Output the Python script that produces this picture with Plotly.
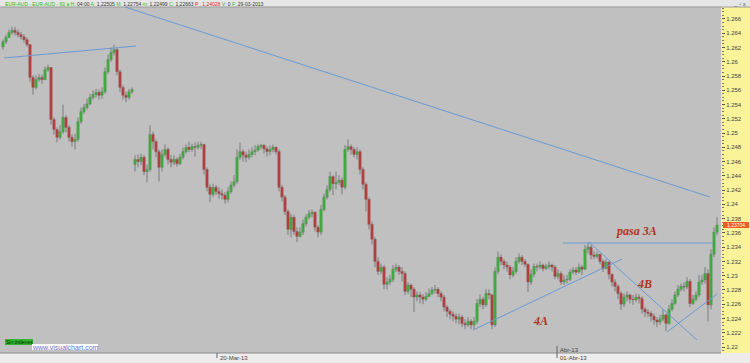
import plotly.graph_objects as go

# ---- data (prices in pips above 1.2000) ----
first_open = 621
gap_index = 44
gap_open = 456

close_pips = [
    628,634,641,644,641,638,635,631,624,578,
    564,575,578,575,589,592,519,505,494,502,
    522,508,494,488,491,516,530,536,541,550,
    554,557,553,558,586,603,613,617,586,564,
    553,550,558,561,463,460,466,446,449,498,
    488,474,452,470,477,463,459,463,457,466,
    474,480,477,481,480,483,484,449,424,414,
    424,418,415,413,407,418,427,432,466,474,
    469,466,470,474,476,481,483,478,474,477,
    480,474,424,410,390,365,382,362,355,361,
    373,382,387,389,368,361,393,410,421,439,
    429,431,434,424,477,481,477,470,474,449,
    428,407,372,351,320,306,312,288,291,295,
    309,312,306,303,278,287,281,270,273,270,
    267,271,275,280,281,275,270,256,250,246,
    243,239,242,233,231,236,231,236,261,267,
    259,275,273,231,306,326,320,315,312,301,
    306,320,326,320,316,291,302,313,312,315,
    310,313,315,312,299,303,291,294,295,305,
    308,305,312,309,337,340,329,327,330,320,
    310,319,302,291,285,275,260,270,273,267,
    266,270,268,253,249,247,243,238,235,239,
    245,233,253,261,273,281,285,284,292,261,
    267,273,291,294,303,259,330,361,371,
]
high_pips = [
    631,638,645,649,649,645,642,639,634,625,
    581,581,583,582,593,596,592,522,508,511,
    540,525,511,498,499,522,536,541,548,555,
    560,562,561,564,592,610,620,624,620,589,
    567,558,562,564,469,470,471,469,456,511,
    502,491,477,477,484,480,469,469,466,471,
    480,484,488,485,487,488,488,485,452,428,
    429,427,424,421,417,424,432,441,477,487,
    477,474,477,480,483,484,485,484,481,483,
    484,481,477,427,413,393,387,385,368,368,
    379,386,392,393,390,371,399,415,427,446,
    441,446,441,438,483,491,484,480,480,477,
    452,431,410,376,354,326,317,315,298,301,
    315,317,315,312,306,291,289,284,278,277,
    274,277,282,284,287,284,278,273,259,253,
    250,247,247,245,239,242,239,242,267,274,
    270,281,281,275,312,334,330,323,320,315,
    312,326,331,329,323,317,309,317,317,320,
    317,317,320,317,315,309,306,301,301,309,
    312,312,317,315,343,347,343,334,334,331,
    323,323,320,303,295,288,278,275,278,275,
    273,275,274,271,256,253,250,247,242,245,
    253,247,259,267,278,287,289,291,298,295,
    273,278,301,301,312,309,337,368,382,
]
low_pips = [
    617,625,634,638,637,634,631,627,621,572,
    554,561,572,569,575,586,512,498,487,491,
    499,501,488,481,477,488,513,527,533,539,
    547,550,547,548,555,583,600,609,581,558,
    547,543,547,555,446,452,455,441,431,446,
    477,466,432,446,466,456,452,455,453,455,
    463,471,473,474,467,477,478,442,418,403,
    410,413,408,407,401,403,415,424,429,463,
    460,459,463,466,469,474,477,471,467,469,
    473,470,418,404,385,357,354,357,347,354,
    357,369,379,382,362,354,357,390,407,418,
    413,421,427,414,421,474,470,466,463,442,
    421,390,365,344,312,301,302,281,281,287,
    291,305,301,292,273,274,270,249,264,261,
    260,264,270,273,275,270,264,250,242,239,
    236,233,232,228,225,228,225,225,232,256,
    253,256,267,225,228,302,315,309,306,295,
    298,303,317,315,312,277,287,298,306,309,
    306,308,309,306,295,295,287,287,289,292,
    302,301,303,301,308,331,323,323,324,316,
    305,309,295,285,278,267,252,256,264,261,
    259,263,261,247,242,242,236,231,228,231,
    236,222,231,250,259,270,278,278,281,256,
    259,264,270,287,289,236,253,326,357,
]

# drawn trend lines: (bar index, price) pairs
trend_lines = [
    ((0.33, 1.26053), (44.33, 1.26221)),
    ((40.67, 1.26768), (235.67, 1.24103)),
    ((156.67, 1.22238), (206.33, 1.23234)),
    ((186.67, 1.23458), (236.67, 1.23458)),
    ((195.33, 1.23472), (231.33, 1.22098)),
    ((221.33, 1.22210), (238.0, 1.22743)),
]
labels = [("pasa 3A", 211.3, 1.23626), ("4B", 213.7, 1.22883), ("4A", 179.3, 1.22364)]
date_ticks = [(71.33, "20-Mar-13"), (184.67, "01-Abr-13")]
y_ticks = [round(1.22 + 0.002 * k, 3) for k in range(24)]
last_price_text = "1,23704"

# ---- build OHLC ----
n = len(close_pips)
closes = [1.2 + v / 10000 for v in close_pips]
opens = [1.2 + first_open / 10000] + closes[:-1]
opens[gap_index] = 1.2 + gap_open / 10000
highs = [max(1.2 + h / 10000, o, c) for h, o, c in zip(high_pips, opens, closes)]
lows = [min(1.2 + l / 10000, o, c) for l, o, c in zip(low_pips, opens, closes)]
xs = list(range(n))

W, H = 750, 363
def py(p):  # pixel y -> paper
    return 1 - p / H
def px(p):
    return p / W

fig = go.Figure()
# gray wicks (high-low) underneath the bodies
wx, wy = [], []
for i in xs:
    wx += [i, i, None]
    wy += [lows[i], highs[i], None]
fig.add_trace(go.Scatter(x=wx, y=wy, mode="lines", line=dict(color="#7a7a7a", width=1),
                         showlegend=False, hoverinfo="skip"))
# candle bodies (open-close) as floating bars
body_base = [min(o, c) for o, c in zip(opens, closes)]
body_len = [max(abs(c - o), 0.00004) for o, c in zip(opens, closes)]
body_col = ["#00e600" if c >= o else "#f40000" for o, c in zip(opens, closes)]
fig.add_trace(go.Bar(x=xs, y=body_len, base=body_base, width=0.8,
                     marker=dict(color=body_col, line=dict(color="#444444", width=0.25)),
                     showlegend=False, hoverinfo="skip"))

shapes = []
shapes.append(dict(type="rect", xref="paper", yref="paper", x0=px(721), x1=1, y0=py(353), y1=py(7),
                   fillcolor="#faf39a", line=dict(width=0), layer="below"))
shapes.append(dict(type="rect", xref="paper", yref="paper", x0=0, x1=1, y0=py(7), y1=1,
                   fillcolor="#e6e6e6", line=dict(width=0), layer="below"))
shapes.append(dict(type="line", xref="paper", yref="paper", x0=0, x1=1, y0=py(7), y1=py(7),
                   line=dict(color="#9a9a9a", width=1)))
shapes.append(dict(type="line", xref="paper", yref="paper", x0=0, x1=px(721), y0=py(353), y1=py(353),
                   line=dict(color="#8a8a8a", width=1)))
for (a, b) in trend_lines:
    shapes.append(dict(type="line", xref="x", yref="y", x0=a[0], y0=a[1], x1=b[0], y1=b[1],
                       line=dict(color="#6a9ad4", width=1)))
for xv, _ in date_ticks:
    shapes.append(dict(type="line", xref="x", yref="paper", x0=xv, x1=xv, y0=py(358), y1=py(353),
                       line=dict(color="#666666", width=1)))
shapes.append(dict(type="line", xref="x", yref="paper", x0=date_ticks[1][0], x1=date_ticks[1][0],
                   y0=py(353), y1=py(346), line=dict(color="#666666", width=1)))
shapes.append(dict(type="rect", xref="paper", yref="paper", x0=px(723), x1=px(749), y0=py(228), y1=py(222),
                   fillcolor="#f2582a", line=dict(width=0)))
shapes.append(dict(type="rect", xref="paper", yref="paper", x0=px(5), x1=px(33), y0=py(345), y1=py(339),
                   fillcolor="#2fb52f", line=dict(width=0)))
shapes.append(dict(type="rect", xref="paper", yref="paper", x0=px(32), x1=px(98), y0=py(350), y1=py(344),
                   fillcolor="#ffffff", line=dict(width=0)))

ann = []
for t, xv, yv in labels:
    ann.append(dict(x=xv, y=yv, xref="x", yref="y", text=t, showarrow=False,
                    font=dict(family="Liberation Serif", size=12, color="#b0321c", style="italic", weight="bold")))
for xv, t in date_ticks:
    ann.append(dict(x=xv, y=py(358), xref="x", yref="paper", text=t, showarrow=False, xanchor="left",
                    xshift=1, yanchor="middle", font=dict(family="Liberation Sans", size=6, color="#444444")))
ann.append(dict(x=date_ticks[1][0], y=py(350), xref="x", yref="paper", text="Abr-13", showarrow=False,
                xanchor="left", xshift=1, yanchor="middle",
                font=dict(family="Liberation Sans", size=6, color="#444444")))
g = "#22bb22"; k = "#333333"
title = (f"<span style='color:{g}'>EUR-AUD - EUR-AUD - 60 a</span> "
         f"<span style='color:{g}'>H:</span> <span style='color:{k}'>04:00</span> "
         f"<span style='color:{g}'>A:</span> <span style='color:{k}'>1,22505</span> "
         f"<span style='color:{g}'>M:</span> <span style='color:{k}'>1,22754</span> "
         f"<span style='color:{g}'>m:</span> <span style='color:{k}'>1,22499</span> "
         f"<span style='color:{g}'>C:</span> <span style='color:{k}'>1,22663</span> "
         f"<span style='color:#ee2222'>P : 1,24028</span> "
         f"<span style='color:{g}'>V:</span> <span style='color:{k}'>0</span> "
         f"<span style='color:{g}'>F:</span> <span style='color:{k}'>29-03-2013</span>")
ann.append(dict(x=px(3), y=py(3.5), xref="paper", yref="paper", text=title, showarrow=False,
                xanchor="left", yanchor="middle", font=dict(family="Liberation Sans", size=5)))
ann.append(dict(x=px(748), y=py(3.5), xref="paper", yref="paper", text="_ ▫ x", showarrow=False,
                xanchor="right", yanchor="middle", font=dict(family="Liberation Sans", size=6, color="#555555")))
ann.append(dict(x=px(736), y=py(225), xref="paper", yref="paper", text=last_price_text, showarrow=False,
                xanchor="center", yanchor="middle", font=dict(family="Liberation Sans", size=5, color="#ffffff")))
ann.append(dict(x=px(19), y=py(342), xref="paper", yref="paper", text="Sin órdenes", showarrow=False,
                xanchor="center", yanchor="middle", font=dict(family="Liberation Sans", size=5, color="#0a2a0a")))
ann.append(dict(x=px(65), y=py(347), xref="paper", yref="paper", text="www.visualchart.com", showarrow=False,
                xanchor="center", yanchor="middle", font=dict(family="Liberation Sans", size=7, color="#7070cc")))

tick_text = [f"{v:.3f}".rstrip("0") for v in y_ticks]

fig.update_layout(
    width=W, height=H, margin=dict(l=0, r=0, t=0, b=0),
    paper_bgcolor="#ececec", plot_bgcolor="#c0c0c0",
    shapes=shapes, annotations=ann, showlegend=False, barmode="overlay",
    xaxis=dict(domain=[0, px(721)], range=[-1, 239.33], showgrid=False, zeroline=False,
               showticklabels=False, ticks="", fixedrange=True),
    yaxis=dict(domain=[py(353), py(7)], range=[1.21916, 1.26768], side="right", showgrid=False,
               zeroline=False, tickvals=y_ticks, ticktext=tick_text, ticks="outside", ticklen=3,
               tickcolor="#555555", tickfont=dict(family="Liberation Sans", size=6, color="#444444"),
               minor=dict(dtick=0.0005, ticks="outside", ticklen=2, tickcolor="#777777"),
               fixedrange=True),
)

fig.write_html("out.html")
